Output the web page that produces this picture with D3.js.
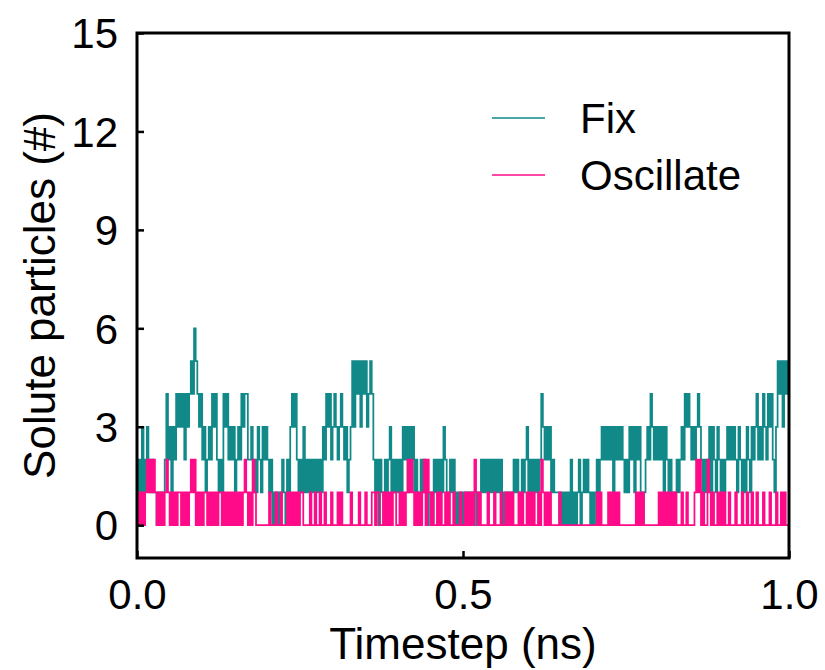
<!DOCTYPE html>
<html><head><meta charset="utf-8">
<script src="https://cdn.jsdelivr.net/npm/d3@7"></script>
<style>body{margin:0;background:#fff}svg{display:block}text{font-family:"Liberation Sans",Arial,sans-serif;fill:#000}</style>
</head><body><svg id="c" width="825" height="670"></svg>
<script>
const seriesNames = ["Fix", "Oscillate"];
const seriesColors = ["#128989", "#ff0a88"];
const timeStep = 0.0025; // ns per sample
const xTicks = [0, 0.5, 1.0];
const xTickLabels = ["0.0", "0.5", "1.0"];
const yTicks = [0, 3, 6, 9, 12, 15];
const fixVals = [
1,2,1,3,1,2,3,2,1,2, 1,1,0,1,1,0,1,2,4,2, 3,1,3,2,4,3,4,3,4,2, 4,3,4,5,4,6,5,4,3,4,
2,3,1,2,3,2,4,3,4,2, 1,2,0,4,3,4,2,3,2,3, 1,2,3,2,4,3,4,4,2,2, 3,1,2,1,3,2,1,3,2,3,
2,1,2,0,1,0,1,0,1,2, 1,0,2,1,3,4,3,4,2,1, 2,1,3,1,2,1,2,1,2,1, 2,1,2,1,3,2,4,3,4,2,
3,4,3,2,3,4,3,2,3,1, 2,3,5,3,5,4,5,3,5,4, 5,3,4,5,4,2,1,2,0,2, 1,0,2,1,2,3,1,2,1,2,
1,2,1,3,2,3,1,3,2,3, 1,2,1,0,2,1,2,1,0,1, 1,0,2,1,2,1,2,1,3,2, 0,1,2,1,2,0,1,0,1,0,
1,0,1,1,1,0,1,1,0,1, 1,2,1,2,1,2,1,2,1,2, 1,2,1,2,0,1,0,1,1,0, 1,2,1,2,1,0,2,1,
2,3,1,2,0,2,1,2,1,2, 4,3,2,3,2,3,1,2,1,1, 1,0,1,0,1,0,1,0,2,0, 1,0,1,2,0,1,2,1,2,1,
0,1,0,1,2,1,2,3,2,3, 2,3,2,3,1,3,2,3,2,3, 2,1,2,1,3,2,3,1,3,2, 3,1,0,1,2,3,2,4,3,2, 3,
2,3,2,3,1,3,2,1,2,1, 0,1,2,1,2,3,2,4,3,4, 3,2,3,2,3,4,3,2,1,2, 1,2,3,1,3,2,1,3,2,1,
2,1,2,3,2,3,2,3,2,1, 3,2,1,2,1,3,2,1,3,2, 3,4,2,3,2,4,3,2,4,3, 4,2,1,3,5,4,5,3,5,4, 5,3
];
const oscVals = [
0,1,0,1,0,1,2,1,2,1, 2,1,0,1,0,1,0,1,2,1, 0,1,0,1,0,1,1,0,1,0, 1,0,1,2,1,2,0,1,0,1,
0,1,1,0,1,0,1,0,1,0, 1,1,0,1,0,1,0,1,0,1, 0,1,0,1,0,1,2,1,0,1, 0,2,1,0,0,0,0,0,0,0,
0,1,0,0,0,1,0,0,1,0, 0,0,1,0,1,0,1,0,1,0, 1,1,0,0,0,0,1,0,0,1, 0,0,1,0,0,1,0,0,0,1,
0,0,0,1,0,1,0,0,0,0, 0,1,0,0,0,0,1,0,0,0, 1,0,0,0,1,1,0,1,1,0, 0,1,0,1,0,1,0,1,1,0,
0,1,0,1,0,1,2,1,2,1, 0,1,0,1,0,1,2,0,2,1, 0,1,0,0,1,0,1,0,0,1, 0,1,0,0,1,0,0,0,1,0,
0,1,0,1,0,1,0,2,1,0, 1,0,0,0,0,1,0,0,0,1, 0,0,0,1,0,0,1,0,1,0, 1,0,0,0,1,0,1,0,
0,1,0,1,0,1,0,0,1,0, 2,1,0,1,0,1,0,0,0,0, 0,1,0,0,0,0,0,0,0,0, 0,0,0,0,0,0,0,0,0,0,
0,0,0,0,1,0,1,0,0,0, 0,1,0,1,0,1,0,1,0,0, 0,0,0,0,0,0,0,0,1,0, 1,0,1,0,0,0,0,0,0,0, 0,
0,1,0,1,0,1,0,1,0,1, 0,1,0,0,0,1,0,0,1,0, 0,0,0,1,2,1,2,0,1,0, 0,2,1,0,1,0,0,1,0,1,
0,1,0,0,1,0,0,0,1,0, 0,0,1,0,0,1,0,0,1,0, 0,1,0,0,0,1,0,0,0,1, 0,0,0,1,0,0,1,0,1,0, 0,0
];

const FONT = '"Liberation Sans", Arial, sans-serif';
const svg = d3.select("#c");
const m = {l:137, r:36, t:33, b:112};
const W = 825 - m.l - m.r, H = 670 - m.t - m.b;
const g = svg.append("g").attr("transform", `translate(${m.l},${m.t})`);
const x = d3.scaleLinear().domain([0, 1]).range([0, W]);
const y = d3.scaleLinear().domain([-1, 15]).range([H, 0]);

const line = d3.line().curve(d3.curveStepAfter)
  .x((d, i) => x(Math.min(i * timeStep, 1))).y(d => y(d));
[fixVals, oscVals].forEach((vals, k) => {
  g.append("path").datum(vals).attr("d", line)
    .attr("fill", "none").attr("stroke", seriesColors[k])
    .attr("stroke-width", 1.75);
});

// axes
const xAxis = d3.axisBottom(x).tickValues(xTicks).tickFormat((d, i) => xTickLabels[i]).tickSizeInner(-7).tickSizeOuter(0).tickPadding(21);
const yAxis = d3.axisLeft(y).tickValues(yTicks).tickSizeInner(-7).tickSizeOuter(0).tickPadding(19);
const gx = g.append("g").attr("transform", `translate(0,${H})`).call(xAxis);
const gy = g.append("g").call(yAxis);
[gx, gy].forEach(a => {
  a.select(".domain").remove();
  a.selectAll(".tick line").attr("stroke", "#000").attr("stroke-width", 2.5);
  a.selectAll(".tick text").attr("font-size", 42).style("font-family", FONT).attr("fill", "#000");
});
gy.selectAll(".tick text").attr("dy", "0.35em");
g.append("rect").attr("x", 0).attr("y", 0).attr("width", W).attr("height", H)
  .attr("fill", "none").attr("stroke", "#000").attr("stroke-width", 3);

// titles
svg.append("text").attr("x", m.l + W / 2).attr("y", 659).attr("text-anchor", "middle")
  .attr("font-size", 44).text("Timestep (ns)");
svg.append("text").attr("transform", `translate(55,${m.t + H / 2}) rotate(-90)`)
  .attr("text-anchor", "middle").attr("font-size", 44).text("Solute particles (#)");

// legend
const leg = svg.append("g");
seriesNames.forEach((n, k) => {
  const yy = 118 + k * 57;
  leg.append("line").attr("x1", 492).attr("x2", 545).attr("y1", yy).attr("y2", yy)
    .attr("stroke", seriesColors[k]).attr("stroke-width", 1.6);
  leg.append("text").attr("x", 580).attr("y", yy + 15).attr("font-size", 42).text(n);
});
</script></body></html>
